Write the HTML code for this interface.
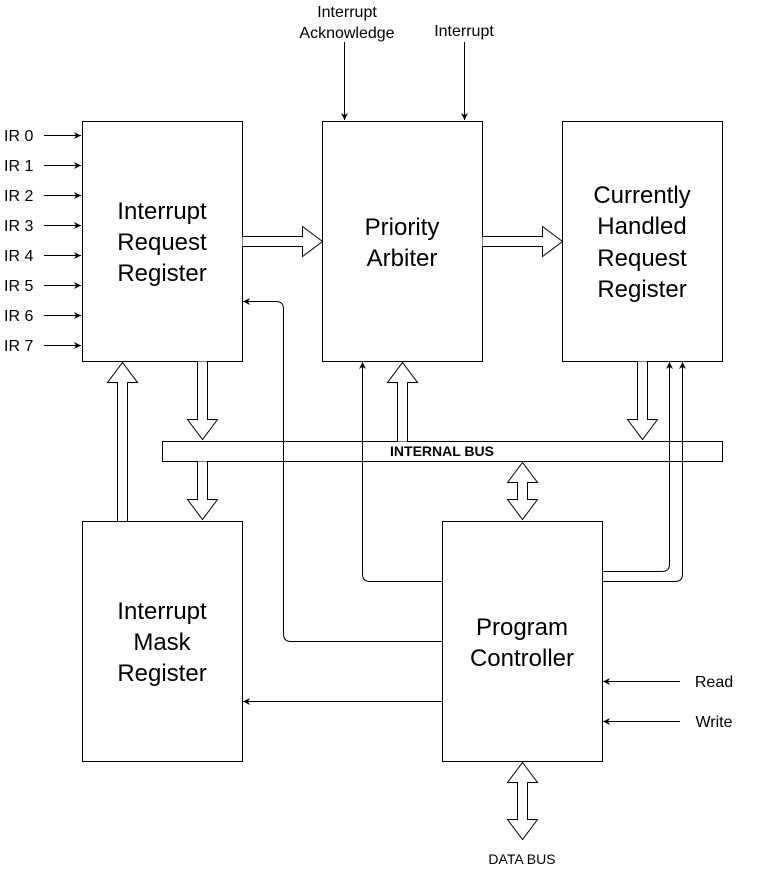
<!DOCTYPE html>
<html><head><style>
body{margin:0;background:#fff}
svg{display:block}
text{font-family:"Liberation Sans",sans-serif;fill:#000}
</style></head><body>
<svg width="758" height="869" viewBox="0 0 758 869">
<defs>
<marker id="a" viewBox="0 0 10 10" refX="10" refY="5" markerWidth="7" markerHeight="7" orient="auto" markerUnits="userSpaceOnUse"><path d="M0,0 L10,5 L0,10 L3,5z" fill="#000"/></marker>
</defs>
<g fill="#fff" stroke="#000" stroke-width="1">
<rect x="82.5" y="121.5" width="160" height="240"/>
<rect x="322.5" y="121.5" width="160" height="240"/>
<rect x="562.5" y="121.5" width="160" height="240"/>
<rect x="82.5" y="521.5" width="160" height="240"/>
<rect x="442.5" y="521.5" width="160" height="240"/>
<rect x="162.5" y="441.5" width="560" height="20"/>
<path d="M197.5,361.5 V419.5 H187.5 L202.5,439.5 L217.5,419.5 H207.5 V361.5"/>
<path d="M197.5,461.5 V499.5 H187.5 L202.5,519.5 L217.5,499.5 H207.5 V461.5"/>
<path d="M117.5,521.5 V382.5 H107.5 L122.5,362.5 L137.5,382.5 H127.5 V521.5z"/>
<path d="M397.5,441.5 V382.5 H387.5 L402.5,362.5 L417.5,382.5 H407.5 V441.5"/>
<path d="M637.5,361.5 V419.5 H627.5 L642.5,439.5 L657.5,419.5 H647.5 V361.5"/>
<path d="M517.5,482.5 H507.5 L522.5,462.5 L537.5,482.5 H527.5 V499.5 H537.5 L522.5,519.5 L507.5,499.5 H517.5z"/>
<path d="M517.5,782.5 H507.5 L522.5,762.5 L537.5,782.5 H527.5 V819.5 H537.5 L522.5,839.5 L507.5,819.5 H517.5z"/>
<path d="M242.5,236.5 H302.5 V226.5 L322.5,241.5 L302.5,256.5 V246.5 H242.5"/>
<path d="M482.5,236.5 H542.5 V226.5 L562.5,241.5 L542.5,256.5 V246.5 H482.5"/>
</g>
<g fill="none" stroke="#000" stroke-width="1">
<path d="M442,581.5 H370 Q362.5,581.5 362.5,574 V362" marker-end="url(#a)"/>
<path d="M442,641.5 H291 Q283.5,641.5 283.5,634 V309 Q283.5,301.5 276,301.5 H243" marker-end="url(#a)"/>
<path d="M442,701.5 H243" marker-end="url(#a)"/>
<path d="M603,571.5 H662 Q669.5,571.5 669.5,564 V362" marker-end="url(#a)"/>
<path d="M603,581.5 H675 Q682.5,581.5 682.5,574 V362" marker-end="url(#a)"/>
<path d="M680,681.5 H603" marker-end="url(#a)"/>
<path d="M680,721.5 H603" marker-end="url(#a)"/>
<path d="M344.5,42 V120" marker-end="url(#a)"/>
<path d="M464.5,42 V120" marker-end="url(#a)"/>
<path d="M44,135.5 H81" marker-end="url(#a)"/>
<path d="M44,165.5 H81" marker-end="url(#a)"/>
<path d="M44,195.5 H81" marker-end="url(#a)"/>
<path d="M44,225.5 H81" marker-end="url(#a)"/>
<path d="M44,255.5 H81" marker-end="url(#a)"/>
<path d="M44,285.5 H81" marker-end="url(#a)"/>
<path d="M44,315.5 H81" marker-end="url(#a)"/>
<path d="M44,345.5 H81" marker-end="url(#a)"/>
</g>
<g font-size="16">
<text x="4" y="141">IR 0</text><text x="4" y="171">IR 1</text><text x="4" y="201">IR 2</text><text x="4" y="231">IR 3</text>
<text x="4" y="261">IR 4</text><text x="4" y="291">IR 5</text><text x="4" y="321">IR 6</text><text x="4" y="351">IR 7</text>
</g>
<g font-size="16" text-anchor="middle">
<text x="347" y="17">Interrupt</text><text x="347" y="38">Acknowledge</text>
<text x="464" y="36">Interrupt</text>
<text x="714" y="687">Read</text><text x="714" y="727">Write</text>
</g>
<g font-size="14" text-anchor="middle"><text x="522" y="864">DATA BUS</text></g>
<text x="442" y="456" font-size="14" font-weight="bold" text-anchor="middle">INTERNAL BUS</text>
<g font-size="24" text-anchor="middle">
<text x="162" y="219">Interrupt</text><text x="162" y="250">Request</text><text x="162" y="281">Register</text>
<text x="402" y="235">Priority</text><text x="402" y="266">Arbiter</text>
<text x="642" y="203">Currently</text><text x="642" y="234">Handled</text><text x="642" y="266">Request</text><text x="642" y="297">Register</text>
<text x="162" y="619">Interrupt</text><text x="162" y="650">Mask</text><text x="162" y="681">Register</text>
<text x="522" y="635">Program</text><text x="522" y="666">Controller</text>
</g>
</svg>
</body></html>
